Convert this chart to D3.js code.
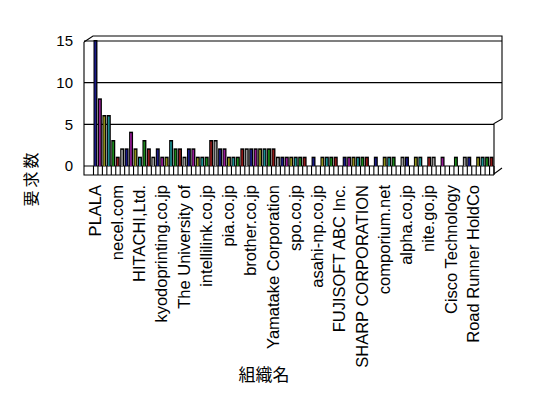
<!DOCTYPE html>
<html>
<head>
<meta charset="utf-8">
<script src="https://cdn.jsdelivr.net/npm/d3@7"></script>
<style>
body { margin: 0; background: #fff; }
text { font-family: "Liberation Sans", Arial, sans-serif; fill: #000; }
</style>
</head>
<body>
<script>
var w = 548;
var h = 398;

// requests per organisation, left to right
var requestCounts = [15, 8, 6, 6, 3, 1, 2, 2, 4, 2,
	1, 3, 2, 1, 2, 1, 1, 3, 2, 2,
	1, 2, 2, 1, 1, 1, 3, 3, 2, 2,
	1, 1, 1, 2, 2, 2, 2, 2, 2, 2,
	2, 1, 1, 1, 1, 1, 1, 1, 0, 1,
	0, 1, 1, 1, 1, 0, 1, 1, 1, 1,
	1, 1, 0, 1, 0, 1, 1, 1, 0, 1,
	1, 0, 1, 1, 0, 1, 1, 0, 1, 0,
	0, 1, 0, 1, 1, 0, 1, 1, 1, 1];
// every fifth organisation gets a label
var tickLabels = ["PLALA", "necel.com", "HITACHI,Ltd.", "kyodoprinting.co.jp",
	"The University of", "intellilink.co.jp", "pia.co.jp", "brother.co.jp",
	"Yamatake Corporation", "spo.co.jp", "asahi-np.co.jp", "FUJISOFT ABC Inc.",
	"SHARP CORPORATION", "comporium.net", "alpha.co.jp", "nite.go.jp",
	"Cisco Technology", "Road Runner HoldCo"];
var yTicks = [0, 5, 10, 15];
var xTitle = "組織名";
var yTitle = "要求数";

var palette = ["#1a1a86", "#961a96", "#8f8f1a", "#1a8f8f", "#1a861a", "#8f1a1a", "#9a9a9a"];

var svg = d3.select("body")
	.append("svg")
	.attr("width", w)
	.attr("height", h);

var x = d3.scaleBand()
	.domain(d3.range(requestCounts.length))
	.range([93.5, 494]);
var y = d3.scaleLinear()
	.domain([0, 15])
	.range([166, 41]);

// walls and gridlines
var frame = svg.append("g")
	.attr("fill", "none")
	.attr("stroke", "#000")
	.attr("stroke-width", 1.1);
frame.append("path").attr("d", "M84,42L93,36H502V119L494,123.5V174L502,168");
frame.append("path").attr("d", "M84,42V175H494");
[10, 15].forEach(function(v){
	frame.append("line").attr("x1", 84).attr("x2", 502).attr("y1", y(v)).attr("y2", y(v));
});
frame.append("line").attr("x1", 84).attr("x2", 494).attr("y1", y(5)).attr("y2", y(5));
frame.append("line").attr("x1", 84).attr("x2", 494).attr("y1", y(0)).attr("y2", y(0));

// floor cells
frame.selectAll("line.cell")
	.data(d3.range(requestCounts.length + 1))
	.enter()
	.append("line")
	.attr("class", "cell")
	.attr("x1", function(d){ return 93.5 + d * x.bandwidth(); })
	.attr("x2", function(d){ return 93.5 + d * x.bandwidth(); })
	.attr("y1", y(0))
	.attr("y2", 175);

// bars: dark side then coloured face
var bars = svg.append("g");
var nonzero = requestCounts.map(function(v, i){ return {v: v, i: i}; })
	.filter(function(d){ return d.v > 0; });
bars.selectAll("rect.side")
	.data(nonzero)
	.enter()
	.append("rect")
	.attr("class", "side")
	.attr("x", function(d){ return x(d.i); })
	.attr("y", function(d){ return y(d.v) - 1; })
	.attr("width", x.bandwidth() - 0.5)
	.attr("height", function(d){ return y(0) - y(d.v) + 1; })
	.attr("fill", "#000");
bars.selectAll("rect.face")
	.data(nonzero)
	.enter()
	.append("rect")
	.attr("class", "face")
	.attr("x", function(d){ return x(d.i) + 1; })
	.attr("y", function(d){ return y(d.v) + 0.5; })
	.attr("width", 1.7)
	.attr("height", function(d){ return y(0) - y(d.v) - 0.5; })
	.attr("fill", function(d){ return palette[d.i % palette.length]; });

// y axis labels
var yAxis = svg.append("g")
	.attr("transform", "translate(76,0)")
	.call(d3.axisLeft(y).tickValues(yTicks).tickSize(0).tickPadding(3));
yAxis.select(".domain").remove();
yAxis.selectAll("text")
	.style("font-size", "15px")
	.style("font-family", "Liberation Sans, Arial, sans-serif");

// x axis labels
var xAxis = svg.append("g")
	.attr("transform", "translate(0,185)")
	.call(d3.axisBottom(x)
		.tickValues(d3.range(0, requestCounts.length, 5).filter(function(i){ return i / 5 < tickLabels.length; }))
		.tickSize(0)
		.tickFormat(function(i){ return tickLabels[i / 5]; }));
xAxis.select(".domain").remove();
xAxis.selectAll("text")
	.attr("transform", "rotate(-90)")
	.attr("text-anchor", "end")
	.attr("x", 0)
	.attr("y", 0)
	.attr("dx", 0)
	.attr("dy", "0.3em")
	.style("font-size", "16.5px")
	.style("font-family", "Liberation Sans, Arial, sans-serif");

// titles
svg.append("text")
	.attr("x", 264)
	.attr("y", 381)
	.attr("text-anchor", "middle")
	.style("font-family", "Noto Sans CJK JP")
	.style("font-size", "17px")
	.text(xTitle);
svg.append("text")
	.attr("transform", "translate(37,178) rotate(-90)")
	.attr("text-anchor", "middle")
	.style("font-family", "Noto Sans CJK JP")
	.style("font-size", "16px")
	.style("letter-spacing", "3px")
	.text(yTitle);
</script>
</body>
</html>
